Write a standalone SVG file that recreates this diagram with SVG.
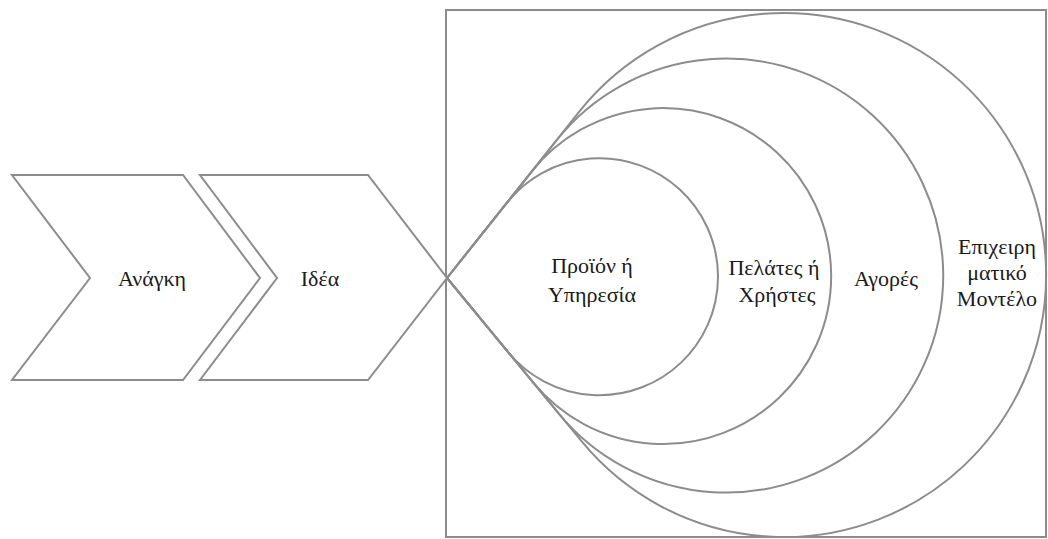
<svg xmlns="http://www.w3.org/2000/svg" width="1048" height="539" viewBox="0 0 1048 539">
<style>
.s{fill:none;stroke:#8c8c8c;stroke-width:2;stroke-linejoin:miter}
.w{fill:#fff;stroke:#8c8c8c;stroke-width:2}
.t{font-family:"Liberation Serif","DejaVu Serif",serif;font-size:22px;fill:#1a1a1a;text-anchor:middle}
</style>
<rect width="1048" height="539" fill="#fff"/>
<g id="frame"><rect class="s" x="446" y="10" width="600" height="527"/></g>
<g id="connectors">
<path class="s" d="M447,278 L506.74,202.89 A118.5,118.5 0 1 1 508.05,352.05 Z"/>
<path class="s" d="M447,278 L531.69,171.53 A168,168 0 1 1 533.54,382.98 Z"/>
<path class="s" d="M447,278 L556.37,140.50 A217,217 0 1 1 558.76,413.57 Z"/>
<path class="s" d="M447,278 L579.06,111.98 A262,262 0 1 1 581.94,441.69 Z"/>
</g>
<g id="n-anagki"><path class="w" d="M12,175 L183,175 L260,278 L183,380 L12,380 L90,278 Z"/><text class="t" x="152" y="286">Ανάγκη</text></g>
<g id="n-idea"><path class="w" d="M200,175 L368,175 L447,278 L368,380 L200,380 L277,278 Z"/><text class="t" x="320" y="286">Ιδέα</text></g>
<g id="n-proion"><text class="t" x="592" y="273">Προϊόν ή</text><text class="t" x="592" y="302">Υπηρεσία</text></g>
<g id="n-pelates"><text class="t" x="774" y="275">Πελάτες ή</text><text class="t" x="777" y="302">Χρήστες</text></g>
<g id="n-agores"><text class="t" x="886" y="286">Αγορές</text></g>
<g id="n-epixeirimatiko"><text class="t" x="997" y="254">Επιχειρη</text><text class="t" x="997" y="280">ματικό</text><text class="t" x="997" y="306">Μοντέλο</text></g>
</svg>
